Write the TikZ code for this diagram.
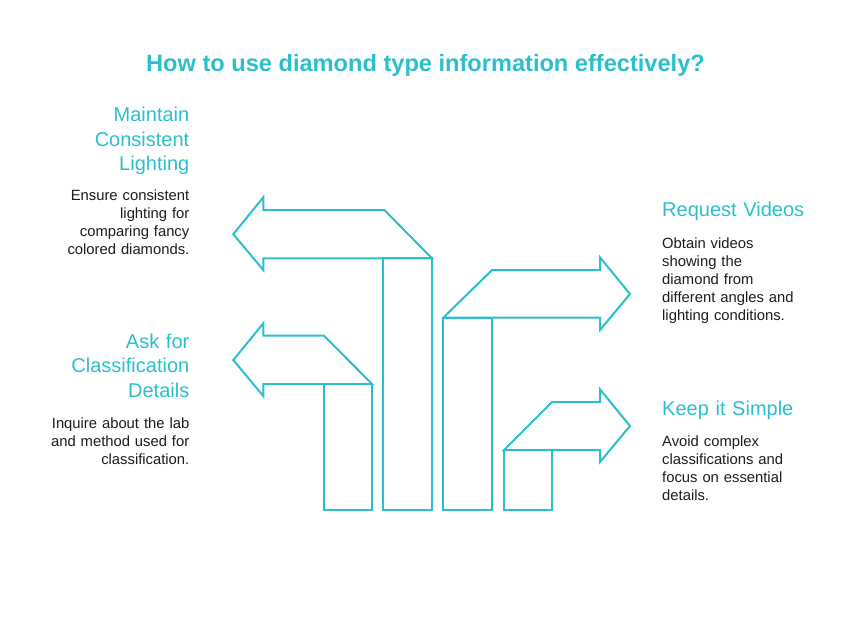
\documentclass[tikz,border=0pt]{standalone}
\usepackage{fontspec}
\setmainfont{Liberation Sans}
\usepackage{tikz}
\definecolor{aqua}{HTML}{2BBFCB}
\definecolor{ink}{HTML}{1C1C1C}

\begin{document}
\begin{tikzpicture}[x=1pt,y=-1pt]
    \tikzstyle{outline}=[draw=aqua, line width=2pt, line join=miter]
    \tikzstyle{heading}=[text=aqua, inner sep=0pt
    , font=\fontsize{20}{24.5}\selectfont]
    \tikzstyle{body}=[text=ink, inner sep=0pt
    , font=\fontsize{14.8}{18}\selectfont]
    \useasboundingbox (0,0) rectangle (852,618);
    % Title
    \node[text=aqua, font=\bfseries\fontsize{23.6}{28}\selectfont, anchor=base] (title) at (425.5,71.7) {How to use diamond type information effectively?};
    % Draw the left arrows
    \draw[outline] (384.3,210) -- (263.3,210) -- (263.3,197.3) -- (233.3,234.2) -- (263.3,270) -- (263.3,258.3) -- (432,258.3) -- cycle;
    \draw[outline] (383.3,258.3) rectangle (432,510);
    \draw[outline] (324,335.7) -- (263.3,335.7) -- (263.3,323.3) -- (233.3,360) -- (263.3,396) -- (263.3,384) -- (372,384) -- cycle;
    \draw[outline] (324,384) rectangle (372,510);
    % Draw the right arrows
    \draw[outline] (492,270) -- (600,270) -- (600,257.3) -- (630,294) -- (600,330) -- (600,317.7) -- (443.3,317.7) -- cycle;
    \draw[outline] (443.3,317.7) rectangle (492,510);
    \draw[outline] (552,402) -- (600,402) -- (600,389.3) -- (630,426) -- (600,462) -- (600,450) -- (504,450) -- cycle;
    \draw[outline] (504,450) rectangle (552,510);
    % Labels
    \node[heading, text width=150, align=right, anchor=base east] (h1) at (189.5,121.7) {Maintain\\Consistent\\Lighting};
    \node[body, text width=150, align=right, anchor=base east] (t1) at (189.5,200) {Ensure consistent\\lighting for\\comparing fancy\\colored diamonds.};
    \node[heading, text width=150, align=right, anchor=base east] (h2) at (189.5,348) {Ask for\\Classification\\Details};
    \node[body, text width=150, align=right, anchor=base east] (t2) at (189.5,428) {Inquire about the lab\\and method used for\\classification.};
    \node[heading, text width=160, align=left, anchor=base west] (h3) at (662,216.7) {Request Videos};
    \node[body, text width=160, align=left, anchor=base west] (t3) at (662,248) {Obtain videos\\showing the\\diamond from\\different angles and\\lighting conditions.};
    \node[heading, text width=160, align=left, anchor=base west] (h4) at (662,415) {Keep it Simple};
    \node[body, text width=160, align=left, anchor=base west] (t4) at (662,446) {Avoid complex\\classifications and\\focus on essential\\details.};
\end{tikzpicture}
\end{document}
